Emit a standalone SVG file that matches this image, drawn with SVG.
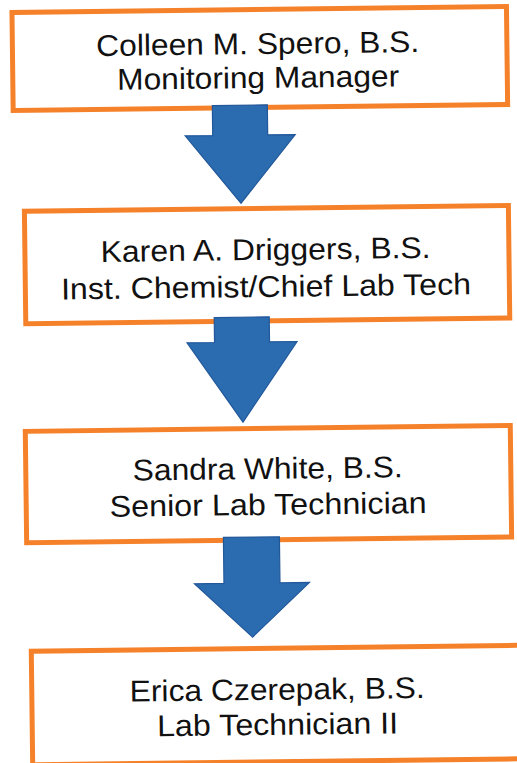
<svg xmlns="http://www.w3.org/2000/svg" width="517" height="763" viewBox="0 0 517 763">
<style>
.box{fill:#ffffff;stroke:#F5822A;stroke-width:5}
.arrow{fill:#2B6BB0;stroke:#22589A;stroke-width:1.2;stroke-linejoin:miter}
.lbl{font-family:"Liberation Sans",Arial,sans-serif;font-size:30px;fill:#111111;text-anchor:middle}
</style>
<rect width="517" height="763" fill="#ffffff"/>
<g transform="rotate(-0.7 258 381)">
<g id="node1">
<rect class="box" x="16.5" y="9.5" width="494.5" height="98"/>
<text class="lbl" x="261.8" y="54" textLength="323" lengthAdjust="spacingAndGlyphs">Colleen M. Spero, B.S.</text>
<text class="lbl" x="261.8" y="88" textLength="282" lengthAdjust="spacingAndGlyphs">Monitoring Manager</text>
</g>
<g id="node2">
<rect class="box" x="26.5" y="208.5" width="484" height="112.5"/>
<text class="lbl" x="267.2" y="260" textLength="330" lengthAdjust="spacingAndGlyphs">Karen A. Driggers, B.S.</text>
<text class="lbl" x="267.2" y="297" textLength="410" lengthAdjust="spacingAndGlyphs">Inst. Chemist/Chief Lab Tech</text>
</g>
<g id="node3">
<rect class="box" x="24.7" y="428.5" width="485" height="111.5"/>
<text class="lbl" x="266.6" y="479" textLength="270" lengthAdjust="spacingAndGlyphs">Sandra White, B.S.</text>
<text class="lbl" x="266.6" y="515" textLength="317" lengthAdjust="spacingAndGlyphs">Senior Lab Technician</text>
</g>
<g id="node4">
<rect class="box" x="28" y="648.5" width="510" height="113.5"/>
<text class="lbl" x="273.4" y="700" textLength="295" lengthAdjust="spacingAndGlyphs">Erica Czerepak, B.S.</text>
<text class="lbl" x="273.4" y="735" textLength="241" lengthAdjust="spacingAndGlyphs">Lab Technician II</text>
</g>
<g id="connectors">
<polygon class="arrow" points="215.7,105 270.7,105 270.7,135 298.2,135 243.2,203 188.2,135 215.7,135"/>
<polygon class="arrow" points="215,317 270,317 270,342 297.5,342 242.5,422 187.5,342 215,342"/>
<polygon class="arrow" points="221.5,537 277.5,537 277.5,583 307,583 249.5,637 192,583 221.5,583"/>
</g>
</g>
</svg>
